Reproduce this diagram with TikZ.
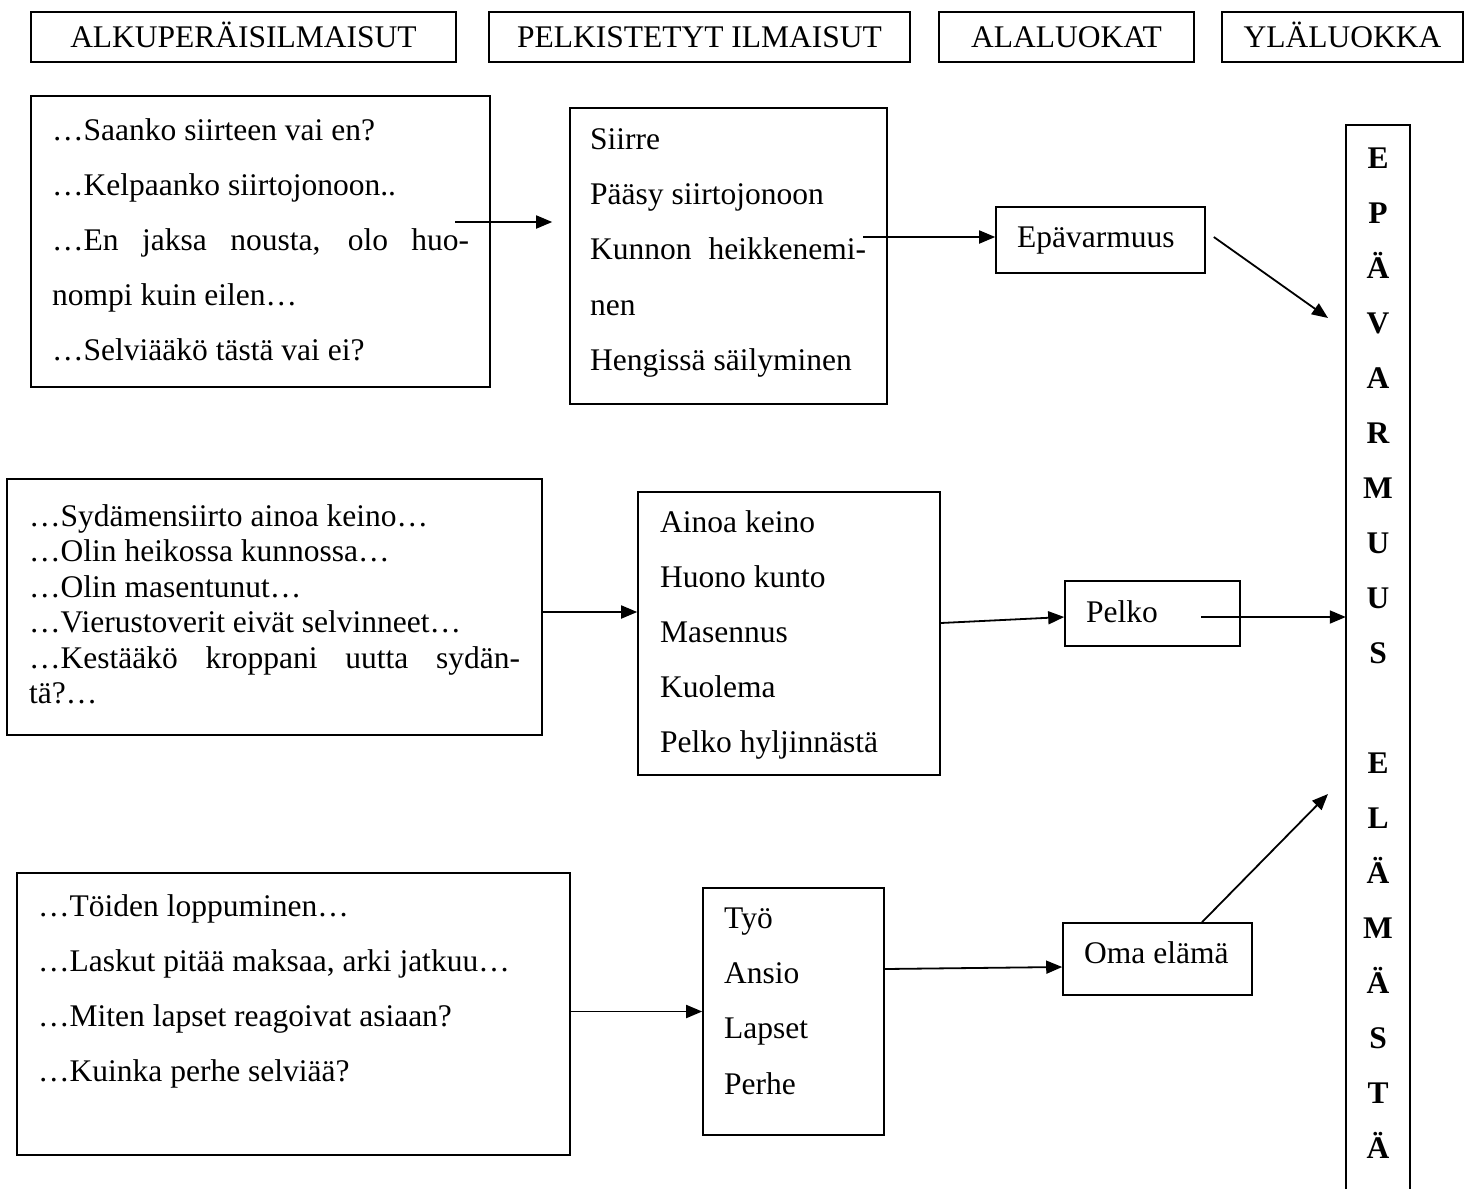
\documentclass[tikz,border=0pt]{standalone}
\usepackage{fontspec}
\setmainfont{Liberation Serif}
\usetikzlibrary{arrows.meta,calc}
\newcommand\bodyfnt{\fontsize{31.5pt}{36pt}\selectfont}
\begin{document}
\begin{tikzpicture}[x=1pt,y=-1pt,
  box/.style={draw, line width=1.6pt, inner sep=0pt},
  hbox/.style={box, font=\bodyfnt, text height=21pt, text depth=0pt},
  txt/.style={anchor=base west, inner sep=0pt, font=\bodyfnt},
  vl/.style={anchor=base, inner sep=0pt, font=\bodyfnt\bfseries},
  arr/.style={line width=1.8pt, -{Triangle[length=16pt,width=13pt]}},
]
\useasboundingbox (0,0) rectangle (1467,1189);

% headers
\node[hbox, minimum width=425pt, minimum height=50pt] (h1) at (243.5,37) {ALKUPERÄISILMAISUT};
\node[hbox, minimum width=421pt, minimum height=50pt] (h2) at (699.5,37) {PELKISTETYT ILMAISUT};
\node[hbox, minimum width=255pt, minimum height=50pt] (h3) at (1066.5,37) {ALALUOKAT};
\node[hbox, minimum width=241pt, minimum height=50pt] (h4) at (1342.5,37) {YLÄLUOKKA};

% row 1
\node[box, minimum width=459pt, minimum height=291pt] (a1) at (260.5,241.5) {};
\node[txt] (a1l1) at (52,140) {…Saanko siirteen vai en?};
\node[txt] (a1l2) at (52,195) {…Kelpaanko siirtojonoon..};
\node[txt] (a1l3) at (52,250) {\makebox[417pt][s]{…En jaksa nousta, olo huo-}};
\node[txt] (a1l4) at (52,305) {nompi kuin eilen…};
\node[txt] (a1l5) at (52,360) {…Selviääkö tästä vai ei?};

\node[box, minimum width=317pt, minimum height=296pt] (b1) at (728.5,256) {};
\node[txt] (b1l1) at (590,149) {Siirre};
\node[txt] (b1l2) at (590,204) {Pääsy siirtojonoon};
\node[txt] (b1l3) at (590,259.5) {\makebox[276pt][s]{Kunnon heikkenemi-}};
\node[txt] (b1l4) at (590,315) {nen};
\node[txt] (b1l5) at (590,370) {Hengissä säilyminen};

\node[box, minimum width=209pt, minimum height=66pt] (c1) at (1100.5,240) {};
\node[txt] (c1l1) at (1017,247) {Epävarmuus};

% right column
\node[minimum width=64pt, minimum height=1064pt, inner sep=0pt] (z) at (1378,657) {};
\draw[line width=1.6pt] (z.south west) -- (z.north west) -- (z.north east) -- (z.south east);
\foreach \k/\l in {0/E,1/P,2/Ä,3/V,4/A,5/R,6/M,7/U,8/U,9/S,11/E,12/L,13/Ä,14/M,15/Ä,16/S,17/T,18/Ä}{
  \node[vl] (v\k) at (1378,{168+55*\k}) {\l};
}

% row 2
\node[box, minimum width=535pt, minimum height=256pt] (a2) at (274.5,607) {};
\node[txt] (a2l1) at (29,526) {…Sydämensiirto ainoa keino…};
\node[txt] (a2l2) at (29,561.5) {…Olin heikossa kunnossa…};
\node[txt] (a2l3) at (29,597) {…Olin masentunut…};
\node[txt] (a2l4) at (29,632.5) {…Vierustoverit eivät selvinneet…};
\node[txt] (a2l5) at (29,668) {\makebox[491pt][s]{…Kestääkö kroppani uutta sydän-}};
\node[txt] (a2l6) at (29,703.5) {tä?…};

\node[box, minimum width=302pt, minimum height=283pt] (b2) at (789,633.5) {};
\node[txt] (b2l1) at (660,532) {Ainoa keino};
\node[txt] (b2l2) at (660,587) {Huono kunto};
\node[txt] (b2l3) at (660,642) {Masennus};
\node[txt] (b2l4) at (660,697) {Kuolema};
\node[txt] (b2l5) at (660,752) {Pelko hyljinnästä};

\node[box, minimum width=175pt, minimum height=65pt] (c2) at (1152.5,613.5) {};
\node[txt] (c2l1) at (1086,622) {Pelko};

% row 3
\node[box, minimum width=553pt, minimum height=282pt] (a3) at (293.5,1014) {};
\node[txt] (a3l1) at (38,916) {…Töiden loppuminen…};
\node[txt] (a3l2) at (38,971) {…Laskut pitää maksaa, arki jatkuu…};
\node[txt] (a3l3) at (38,1026) {…Miten lapset reagoivat asiaan?};
\node[txt] (a3l4) at (38,1081) {…Kuinka perhe selviää?};

\node[box, minimum width=181pt, minimum height=247pt] (b3) at (793.5,1011.5) {};
\node[txt] (b3l1) at (724,928) {Työ};
\node[txt] (b3l2) at (724,983) {Ansio};
\node[txt] (b3l3) at (724,1038) {Lapset};
\node[txt] (b3l4) at (724,1094) {Perhe};

\node[box, minimum width=189pt, minimum height=72pt] (c3) at (1157.5,959) {};
\node[txt] (c3l1) at (1084,963) {Oma elämä};

% connectors
\coordinate (s1) at (455,222);
\draw[arr, shorten >=17pt] (s1) -- (s1 -| b1.west);
\coordinate (s2) at (863,237);
\draw[arr] (s2) -- (s2 -| c1.west);
\coordinate (e3) at (1328,318);
\draw[arr] ($(c1.east)+(8,-3)$) -- (e3);

\draw[arr] ($(a2.east)+(0,5)$) -- ($(b2.west)+(0,-21.5)$);
\draw[arr] ($(b2.east)+(0,-10.5)$) -- ($(c2.west)+(0,3.5)$);
\coordinate (s5) at ($(c2.center)+(48.5,3.5)$);
\draw[arr] (s5) -- (s5 -| z.west);

\draw[arr] (b3.west -| a3.east) -- (b3.west);
\draw[arr] ($(b3.east)+(0,-42.5)$) -- ($(c3.west)+(0,8)$);
\coordinate (e6) at (1328,794);
\draw[arr] ($(c3.north)+(44.5,0)$) -- (e6);
\end{tikzpicture}
\end{document}
